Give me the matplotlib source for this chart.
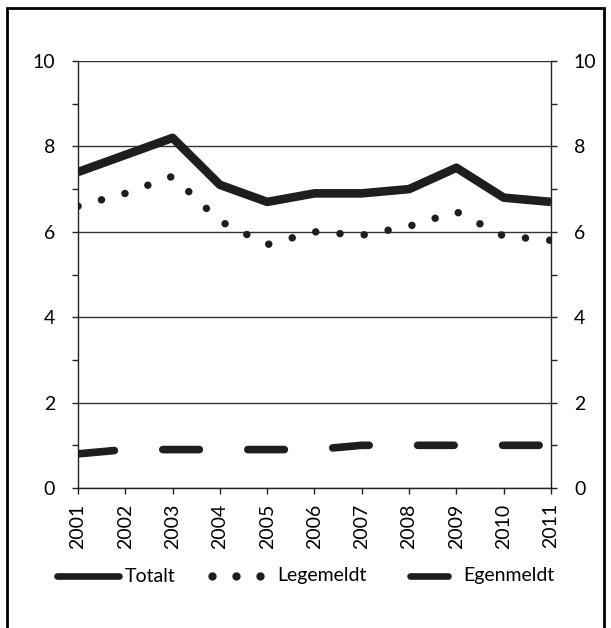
import matplotlib
matplotlib.use("Agg")
import matplotlib.pyplot as plt
from matplotlib.lines import Line2D
from matplotlib.patches import Rectangle
from matplotlib.ticker import MultipleLocator

# data
years = [2001, 2002, 2003, 2004, 2005, 2006, 2007, 2008, 2009, 2010, 2011]
totalt = [7.4, 7.8, 8.2, 7.1, 6.7, 6.9, 6.9, 7.0, 7.5, 6.8, 6.7]
legemeldt = [6.6, 6.9, 7.3, 6.25, 5.7, 6.0, 5.92, 6.13, 6.47, 5.9, 5.8]
egenmeldt = [0.8, 0.9, 0.9, 0.9, 0.9, 0.9, 1.0, 1.0, 1.0, 1.0, 1.0]
series_names = ["Totalt", "Legemeldt", "Egenmeldt"]

plt.rcParams["font.family"] = ["Lato", "DejaVu Sans"]
plt.rcParams["font.size"] = 14
plt.rcParams["lines.scale_dashes"] = False

W, H = 611, 628
fig = plt.figure(figsize=(W / 100, H / 100), dpi=100)
ax = fig.add_axes([78 / W, 1 - 488 / H, (551 - 78) / W, (488 - 61) / H])


def fx(x):
    return x / W


def fy(y):
    return 1 - y / H


ink = "#1e1e1e"

ax.plot(years, totalt, color=ink, lw=6.2, solid_capstyle="butt",
        solid_joinstyle="round", zorder=4)
ax.plot(years, legemeldt, color=ink, lw=5.4,
        linestyle=(0, (0.01, 17.5)), dash_capstyle="round", zorder=4)
ax.plot(years, egenmeldt, color=ink, lw=5.5,
        linestyle=(0, (26.3, 34.9)), dash_capstyle="round", zorder=4)

ax.set_xlim(2001, 2011)
ax.set_ylim(0, 10)
ax.set_xticks(years)
ax.set_xticklabels([str(y) for y in years], rotation=90)
ax.yaxis.set_major_locator(MultipleLocator(2))
ax.yaxis.set_minor_locator(MultipleLocator(1))
ax.yaxis.grid(True, which="major", color="#333333", lw=1.0)
ax.set_axisbelow(True)

ax.tick_params(axis="y", which="both", direction="out", length=4.5,
               width=1.0, color="#222222", left=True, right=True,
               labelleft=True, labelright=True, labelsize=14)
ax.yaxis.set_tick_params(which="major", pad=12)
ax.tick_params(axis="x", direction="out", length=4, width=1.0,
               color="#222222", labelsize=14, pad=7)

for side in ["left", "right", "bottom"]:
    ax.spines[side].set_color("#222222")
    ax.spines[side].set_linewidth(1.0)
ax.spines["top"].set_visible(False)

# manual legend under the plot
ly = 576
fig.add_artist(Line2D([fx(57), fx(119)], [fy(ly), fy(ly)], color=ink,
                      lw=4.8, solid_capstyle="round"))
fig.text(fx(125), fy(ly), series_names[0], va="center", ha="left",
         fontsize=14)
fig.add_artist(Line2D([fx(212), fx(236), fx(260)], [fy(ly)] * 3, color=ink,
                      linestyle="none", marker="o", markersize=5.0))
fig.text(fx(277), fy(ly), series_names[1], va="center", ha="left",
         fontsize=14)
fig.add_artist(Line2D([fx(410), fx(448)], [fy(ly), fy(ly)], color=ink,
                      lw=4.8, solid_capstyle="round"))
fig.text(fx(463), fy(ly), series_names[2], va="center", ha="left",
         fontsize=14)

# frame around the figure (open at the bottom)
fig.add_artist(Rectangle((fx(6.7), fy(640)), fx(604 - 6.7), fy(7.5) - fy(640),
                         fill=False, edgecolor="black", lw=2.0))

fig.savefig("out.png", dpi=100)
